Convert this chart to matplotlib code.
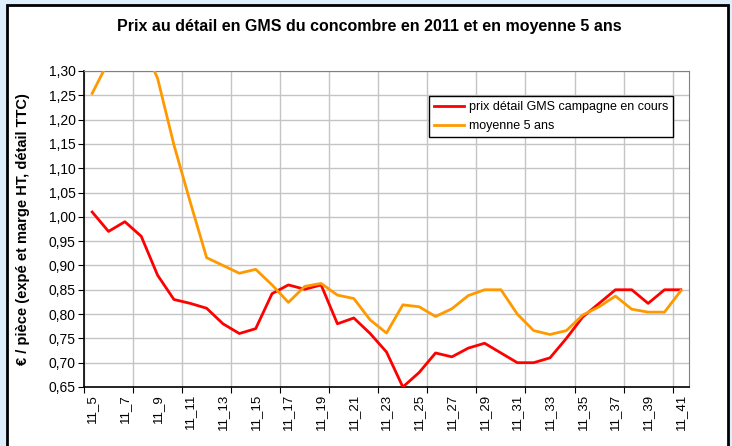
import matplotlib.pyplot as plt
import numpy as np
from matplotlib.patches import Rectangle

plt.rcParams["font.family"] = ["Liberation Sans", "DejaVu Sans"]

weeks = ["11_%d" % w for w in range(5, 42)]

prix_2011 = [1.01, 0.97, 0.99, 0.96, 0.88, 0.83, 0.822, 0.812, 0.78, 0.76,
             0.77, 0.842, 0.86, 0.851, 0.86, 0.78, 0.792, 0.76, 0.722, 0.65,
             0.68, 0.72, 0.712, 0.73, 0.74, 0.72, 0.70, 0.70, 0.71, 0.75,
             0.794, 0.822, 0.85, 0.85, 0.822, 0.85, 0.85]

moyenne_5ans = [1.254, 1.32, 1.40, 1.36, 1.285, 1.148, 1.03, 0.916, 0.90, 0.884,
                0.892, 0.86, 0.824, 0.857, 0.863, 0.839, 0.832, 0.788, 0.761, 0.819,
                0.815, 0.795, 0.811, 0.838, 0.85, 0.85, 0.80, 0.766, 0.758, 0.766,
                0.798, 0.815, 0.837, 0.81, 0.804, 0.804, 0.848]

fig = plt.figure(figsize=(7.32, 4.46), dpi=100)
fig.patch.set_facecolor("#ddeefc")

# white chart frame with black border
frame = Rectangle((7 / 732, -0.05), 721 / 732, 1.05 - 5 / 446,
                  transform=fig.transFigure, facecolor="white",
                  edgecolor="black", linewidth=2, zorder=-5)
fig.patches.append(frame)

ax = fig.add_axes([84 / 732, 59 / 446, 605 / 732, 316 / 446])
ax.set_facecolor("white")

x = np.arange(len(weeks))
ax.plot(x, prix_2011, color="#ff0000", linewidth=2, label="prix détail GMS campagne en cours", zorder=3)
ax.plot(x, moyenne_5ans, color="#ff9900", linewidth=2, label="moyenne 5 ans", zorder=3)

ax.set_xlim(-0.5, len(weeks) - 0.5)
ax.set_ylim(0.65, 1.30)

yt = np.arange(0.65, 1.3001, 0.05)
ax.set_yticks(yt)
ax.set_yticklabels([("%.2f" % v).replace(".", ",") for v in yt], fontsize=10)

ax.set_xticks(np.arange(-0.5, len(weeks), 3))
ax.set_xticklabels([])
ax.set_xticks(x[::2], minor=True)
ax.set_xticklabels(weeks[::2], minor=True, rotation=90, fontsize=9.5)
ax.tick_params(axis="x", which="minor", length=0, pad=5)
ax.tick_params(axis="x", which="major", length=4, direction="out", color="black")
ax.tick_params(axis="y", length=4, direction="out", pad=2)

ax.grid(True, which="major", color="#c4c4c4", linewidth=1)
ax.set_axisbelow(True)

for s in ["top", "right"]:
    ax.spines[s].set_color("#808080")
ax.spines["left"].set_linewidth(1.2)
ax.spines["bottom"].set_linewidth(1.2)

ax.set_ylabel("€ / pièce (expé et marge HT, détail TTC)", fontsize=10.5,
              fontweight="bold")
ax.yaxis.set_label_coords(-0.09, 0.5)

fig.text(0.505, 1 - 27 / 446, "Prix au détail en GMS du concombre en 2011 et en moyenne 5 ans",
         ha="center", va="center", fontsize=11.5, fontweight="bold")

leg = ax.legend(loc="upper left", bbox_to_anchor=(345 / 605, 1 - 25 / 316),
                fontsize=9, frameon=True, fancybox=False, framealpha=1,
                edgecolor="black", borderpad=0.4, handlelength=2.4,
                handletextpad=0.4, labelspacing=0.6, borderaxespad=0)
leg.get_frame().set_linewidth(1)

fig.savefig("out.png", dpi=100, facecolor=fig.get_facecolor())
